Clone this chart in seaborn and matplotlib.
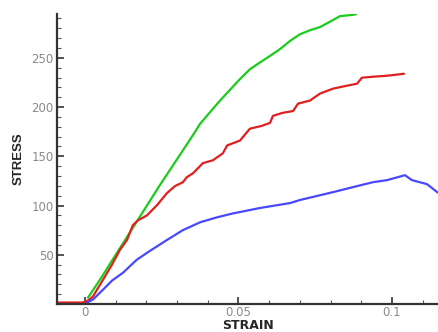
import matplotlib
matplotlib.use("Agg")
import matplotlib.pyplot as plt
import seaborn as sns
import pandas as pd
from matplotlib.ticker import MultipleLocator, FixedLocator

green_strain = [0.001, 0.0049, 0.0147, 0.0244, 0.0319, 0.0349, 0.0375, 0.0407, 0.0440, 0.0472,
                0.0505, 0.0538, 0.0570, 0.0603, 0.0635, 0.0668, 0.0700, 0.0733, 0.0766, 0.0798,
                0.0831, 0.0857, 0.0882]
green_stress = [6.5, 24.7, 73, 120.7, 156, 170.2, 183, 194.7, 206.6, 217.4,
                228.5, 238.6, 245.3, 252.0, 258.8, 267.2, 273.9, 278.0, 281.3, 286.7,
                292.4, 293.1, 294.1]

red_strain = [-0.0091, -0.0007, 0.001, 0.0026, 0.0059, 0.0088, 0.0114, 0.0137, 0.0156, 0.0173, 0.0202,
              0.0235, 0.0267, 0.0293, 0.0319, 0.0332, 0.0352, 0.0384, 0.0417, 0.0449, 0.0463, 0.0505,
              0.0537, 0.0577, 0.0603, 0.0612, 0.0642, 0.0678, 0.0694, 0.0733, 0.0765, 0.0808, 0.0853,
              0.0886, 0.0902, 0.0938, 0.0984, 0.1039]
red_stress = [1.5, 1.5, 3.5, 7.6, 24.7, 39.9, 55, 65, 80, 85, 90,
              100.5, 112.6, 119.7, 123.7, 128.8, 132.8, 143, 146, 153, 161, 166,
              178, 181, 184, 191, 194, 196, 203.5, 206.6, 213.6, 218.7, 221.7,
              223.7, 229.8, 230.8, 231.8, 233.8]

blue_strain = [0.0007, 0.0026, 0.0059, 0.0088, 0.0124, 0.0169, 0.0212, 0.0267, 0.0319, 0.0375, 0.043,
               0.0482, 0.0505, 0.057, 0.0668, 0.070, 0.0808, 0.0873, 0.0938, 0.0984, 0.1042, 0.1065,
               0.1114, 0.1147, 0.117]
blue_stress = [1.5, 4.5, 14.6, 23.7, 31.8, 45, 54, 65, 75, 83, 88,
               92, 93.4, 97.5, 102.5, 105.6, 113.6, 118.7, 123.7, 125.8, 130.8, 125.8,
               121.7, 113.6, 110]

x_ticks = [0, 0.05, 0.1]
x_tick_labels = ["0", "0.05", "0.1"]
y_ticks = [50, 100, 150, 200, 250]

frames = []
for name, xs, ys in [("green", green_strain, green_stress),
                     ("red", red_strain, red_stress),
                     ("blue", blue_strain, blue_stress)]:
    frames.append(pd.DataFrame({"strain": xs, "stress": ys, "series": name}))
df = pd.concat(frames, ignore_index=True)

sns.set_style("white")
plt.rcParams["font.family"] = ["DejaVu Sans"]

fig = plt.figure(figsize=(4.39, 3.32), dpi=100)
ax = fig.add_axes([57/439, 28/332, 382/439, 290/332])

palette = {"green": "#1ccc1c", "red": "#e02020", "blue": "#4848ff"}
sns.lineplot(data=df, x="strain", y="stress", hue="series", palette=palette,
             sort=False, estimator=None, linewidth=1.6, legend=False, ax=ax)

ax.set_xlim(-0.0091, 0.1153)
ax.set_ylim(0, 294.5)

ax.xaxis.set_major_locator(FixedLocator(x_ticks))
ax.set_xticklabels(x_tick_labels)
ax.xaxis.set_minor_locator(MultipleLocator(0.01))
ax.yaxis.set_major_locator(FixedLocator(y_ticks))
ax.yaxis.set_minor_locator(MultipleLocator(10))

for s in ["top", "right"]:
    ax.spines[s].set_visible(False)
for s in ["left", "bottom"]:
    ax.spines[s].set_color("#333333")
    ax.spines[s].set_linewidth(1.6)

ax.tick_params(axis="both", which="major", direction="in", length=5, width=1.2,
               color="#333333", labelsize=8.5, labelcolor="#8a8a8a", pad=1.5)
ax.tick_params(axis="y", which="major", pad=2.5)
ax.tick_params(axis="both", which="minor", direction="in", length=3, width=0.8,
               color="#555555")
ax.tick_params(axis="both", which="both", bottom=True, left=True)

ax.set_xlabel("STRAIN", fontsize=9, fontweight="bold", family="DejaVu Sans", labelpad=0)
ax.set_ylabel("STRESS", fontsize=9.5, fontweight="bold", family="Liberation Sans", labelpad=5)

fig.savefig("out.png", dpi=100)
